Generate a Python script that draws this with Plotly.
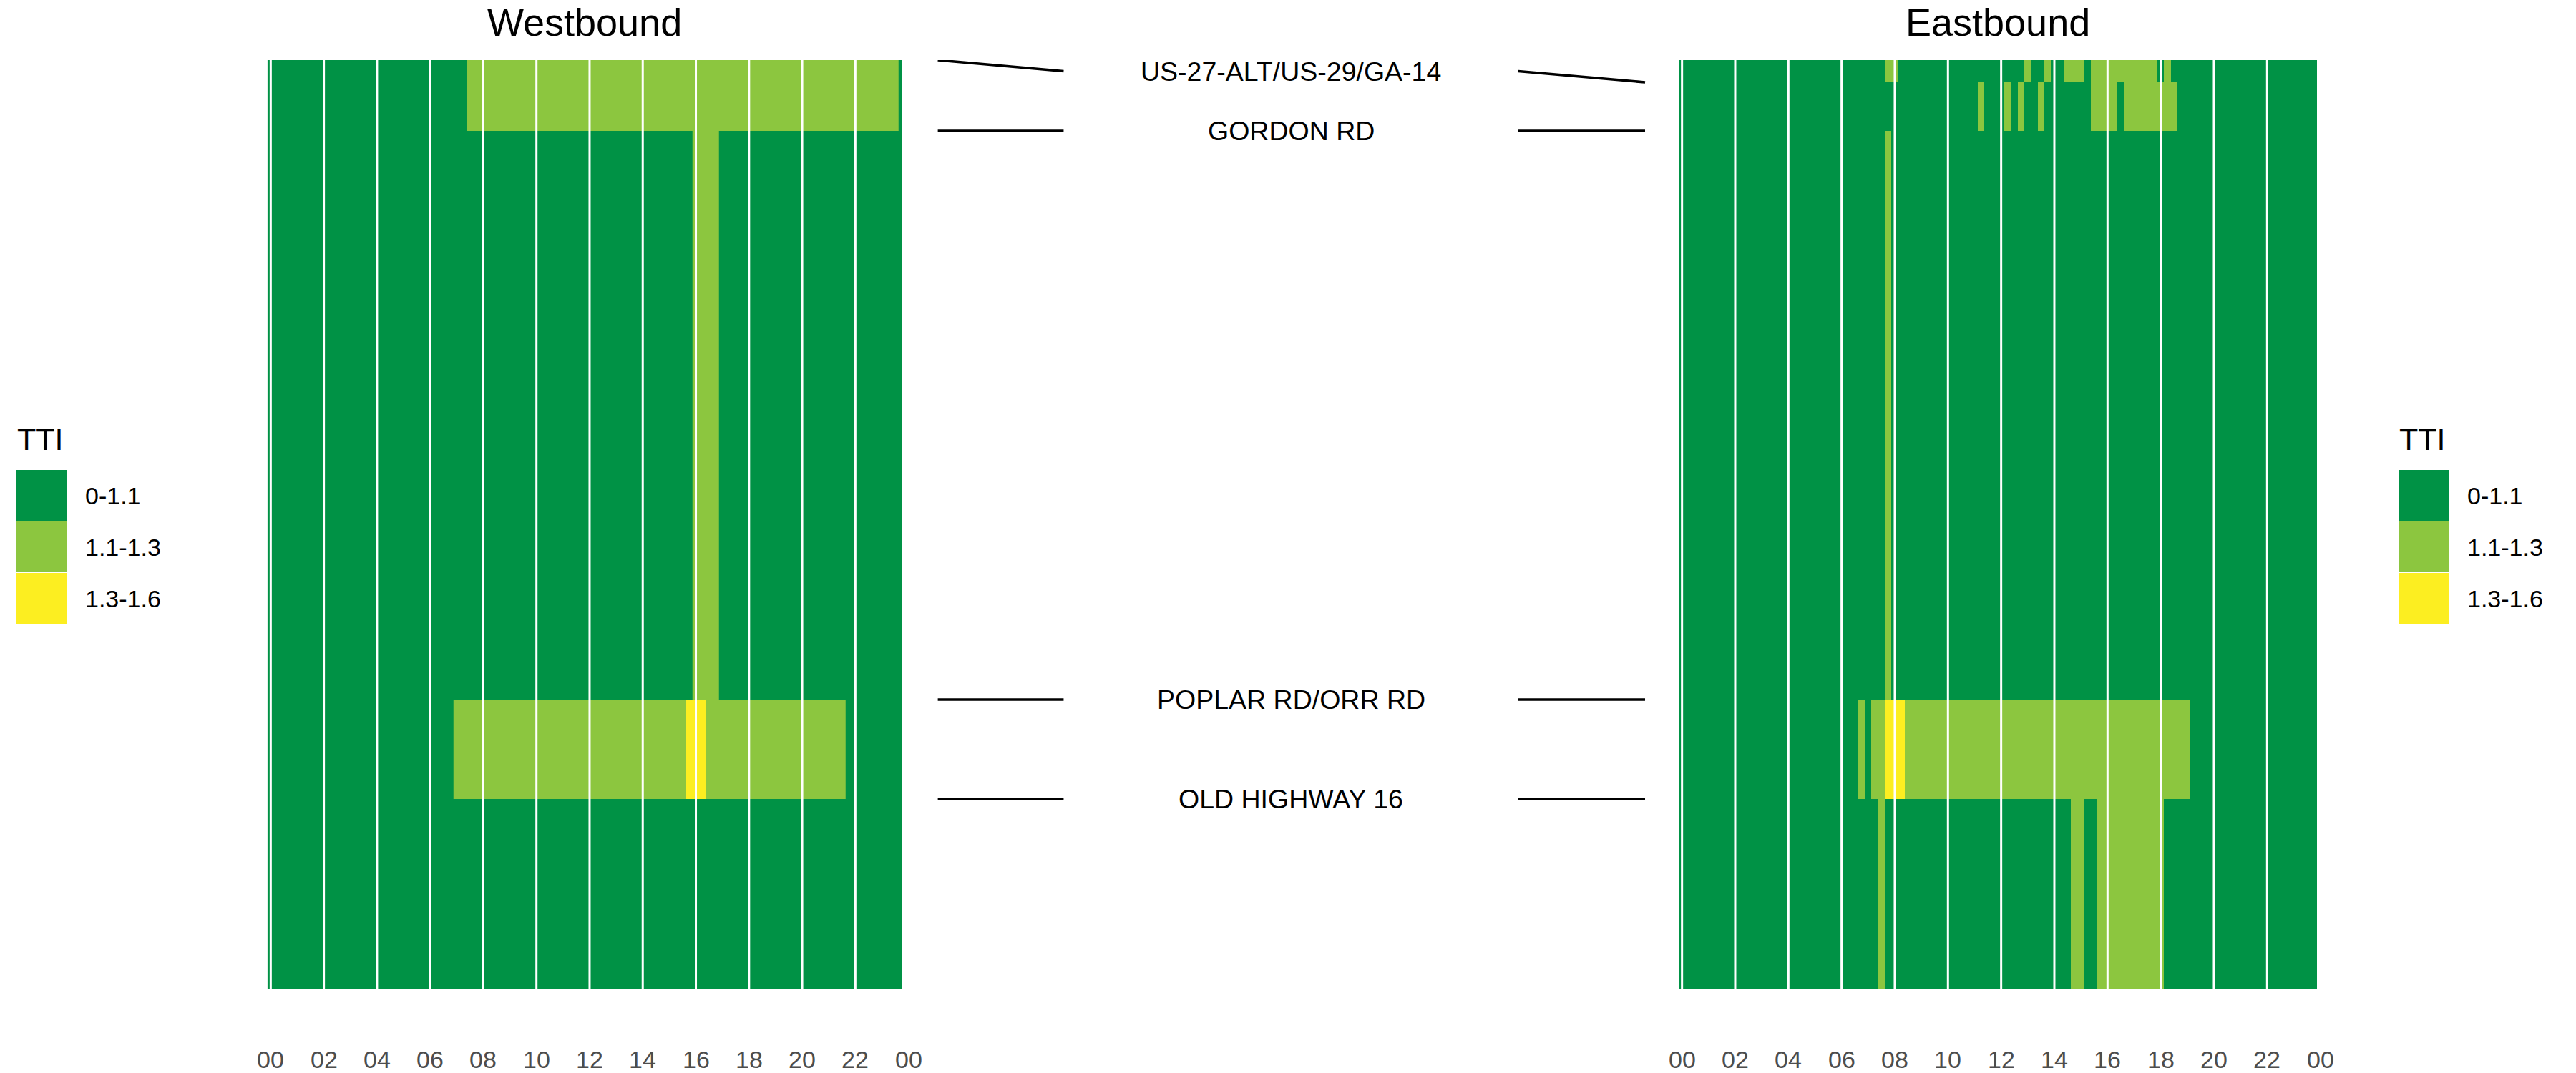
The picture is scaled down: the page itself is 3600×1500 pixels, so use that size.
import plotly.graph_objects as go

W, H = 3600, 1500
FONT = "Liberation Sans, Arial, sans-serif"

# ---------------- data ----------------
# 15-minute time bins (bin centres, hours after midnight)
time_bins = [i * 0.25 for i in range(96)]

tti_levels = ["0-1.1", "1.1-1.3", "1.3-1.6"]
tti_colors = ["#009245", "#8CC63F", "#FCEE21"]

intersections = ["US-27-ALT/US-29/GA-14", "GORDON RD", "POPLAR RD/ORR RD", "OLD HIGHWAY 16"]
wb_intersection_mile = [0.0, 0.495, 4.47, 5.165]
eb_intersection_mile = [0.155, 0.495, 4.47, 5.165]

corridor_length = 6.49
wb_segment_edges = [0.0, 0.495, 4.47, 5.165, 6.49]
eb_segment_edges = [0.0, 0.155, 0.495, 4.47, 5.165, 6.49]

# TTI class per 15-min bin (0 = 0-1.1, 1 = 1.1-1.3, 2 = 1.3-1.6), groups of 2 hours
wb_rows = [
    "00000000 00000000 00000000 00000011 11111111 11111111 11111111 11111111 11111111 11111111 11111111 11111110",
    "00000000 00000000 00000000 00000000 00000000 00000000 00000000 00000000 11110000 00000000 00000000 00000000",
    "00000000 00000000 00000000 00001111 11111111 11111111 11111111 11111112 22111111 11111111 11111110 00000000",
    "00000000 00000000 00000000 00000000 00000000 00000000 00000000 00000000 00000000 00000000 00000000 00000000",
]
eb_rows = [
    "00000000 00000000 00000000 00000001 10000000 00000000 00001001 00111011 11111111 01000000 00000000 00000000",
    "00000000 00000000 00000000 00000000 00000000 00000100 01010010 00000011 11011111 11100000 00000000 00000000",
    "00000000 00000000 00000000 00000001 00000000 00000000 00000000 00000000 00000000 00000000 00000000 00000000",
    "00000000 00000000 00000000 00010112 22111111 11111111 11111111 11111111 11111111 11111000 00000000 00000000",
    "00000000 00000000 00000000 00000010 00000000 00000000 00000000 00011001 11111111 10000000 00000000 00000000",
]

tick_hours = [0, 2, 4, 6, 8, 10, 12, 14, 16, 18, 20, 22, 24]
tick_labels = ["00", "02", "04", "06", "08", "10", "12", "14", "16", "18", "20", "22", "00"]
grid_hours = [0, 2, 4, 6, 8, 10, 12, 14, 16, 18, 20, 22]

# ---------------- layout constants (pixels) ----------------
def px_x(x):
    return x / W

def px_y(y):
    return 1 - y / H

PLOT_TOP, PLOT_BOT = 84, 1382
WB_L, WB_R = 373.7, 1260.7
EB_L, EB_R = 2346.0, 3238.0
WB_XRANGE = [-0.125, 23.76]
EB_XRANGE = [-0.125, 23.875]
YDOM = [px_y(PLOT_BOT), px_y(PLOT_TOP)]


def parse(rows):
    return [[int(c) for c in r.replace(" ", "")] for r in rows]


colorscale = [
    [0.0, tti_colors[0]], [1 / 3, tti_colors[0]],
    [1 / 3, tti_colors[1]], [2 / 3, tti_colors[1]],
    [2 / 3, tti_colors[2]], [1.0, tti_colors[2]],
]

fig = go.Figure()

for rows, edges, xa, ya in [(wb_rows, wb_segment_edges, "x", "y"),
                            (eb_rows, eb_segment_edges, "x2", "y2")]:
    fig.add_trace(go.Heatmap(
        x=time_bins, y=edges, z=parse(rows),
        zmin=-0.5, zmax=2.5, colorscale=colorscale, showscale=False,
        xaxis=xa, yaxis=ya, hoverinfo="skip",
    ))
    gx, gy = [], []
    for h in grid_hours:
        gx += [h, h, None]
        gy += [0, corridor_length, None]
    fig.add_trace(go.Scatter(
        x=gx, y=gy, mode="lines", line=dict(color="white", width=3),
        xaxis=xa, yaxis=ya, hoverinfo="skip", showlegend=False,
    ))

# connector lines in middle axis
LX = [0.046, 0.208, 0.7935, 0.9567]
for name, wbm, ebm in zip(intersections, wb_intersection_mile, eb_intersection_mile):
    mid = (wbm + ebm) / 2
    fig.add_trace(go.Scatter(
        x=[LX[0], LX[1], None, LX[2], LX[3]],
        y=[wbm, mid, None, mid, ebm],
        mode="lines", line=dict(color="black", width=3.6),
        xaxis="x3", yaxis="y3", hoverinfo="skip", showlegend=False,
    ))

annotations = []
for name, wbm, ebm in zip(intersections, wb_intersection_mile, eb_intersection_mile):
    annotations.append(dict(
        x=0.501, y=(wbm + ebm) / 2, xref="x3", yref="y3", text=name,
        showarrow=False, xanchor="center", yanchor="middle",
        font=dict(family=FONT, size=37.5, color="black"),
    ))

# titles
for title, l, r in [("Westbound", WB_L, WB_R), ("Eastbound", EB_L, EB_R)]:
    annotations.append(dict(
        x=px_x((l + r) / 2), y=1.0, xref="paper", yref="paper", text=title,
        showarrow=False, xanchor="center", yanchor="top", borderpad=0,
        font=dict(family=FONT, size=54, color="black"),
    ))

# x tick labels
for l, r, rng in [(WB_L, WB_R, WB_XRANGE), (EB_L, EB_R, EB_XRANGE)]:
    for t, lab in zip(tick_hours, tick_labels):
        frac = (t - rng[0]) / (rng[1] - rng[0])
        annotations.append(dict(
            x=px_x(l + frac * (r - l)), y=px_y(1481), xref="paper", yref="paper",
            text=lab, showarrow=False, xanchor="center", yanchor="middle",
            font=dict(family=FONT, size=34, color="#4D4D4D"),
        ))

# legends (left and right)
shapes = []
for off in [0, 3329]:
    annotations.append(dict(
        x=px_x(22 + off), y=px_y(614), xref="paper", yref="paper", text="TTI",
        showarrow=False, xanchor="left", yanchor="middle",
        font=dict(family=FONT, size=43, color="black"),
    ))
    for i, (lab, col) in enumerate(zip(tti_levels, tti_colors)):
        y0 = 657 + 72 * i
        shapes.append(dict(
            type="rect", xref="paper", yref="paper",
            x0=px_x(23 + off), x1=px_x(94 + off), y0=px_y(y0), y1=px_y(y0 + 71),
            fillcolor=col, line=dict(width=0),
        ))
        annotations.append(dict(
            x=px_x(117 + off), y=px_y(y0 + 36), xref="paper", yref="paper", text=lab,
            showarrow=False, xanchor="left", yanchor="middle",
            font=dict(family=FONT, size=34, color="black"),
        ))

ax_common = dict(showgrid=False, zeroline=False, showticklabels=False, ticks="",
                 showline=False, fixedrange=True)

fig.update_layout(
    width=W, height=H, margin=dict(l=0, r=0, t=0, b=0),
    paper_bgcolor="white", plot_bgcolor="white", showlegend=False,
    font=dict(family=FONT),
    xaxis=dict(domain=[px_x(WB_L), px_x(WB_R)], range=WB_XRANGE, anchor="y", **ax_common),
    yaxis=dict(domain=YDOM, range=[corridor_length, 0], anchor="x", **ax_common),
    xaxis2=dict(domain=[px_x(EB_L), px_x(EB_R)], range=EB_XRANGE, anchor="y2", **ax_common),
    yaxis2=dict(domain=YDOM, range=[corridor_length, 0], anchor="x2", **ax_common),
    xaxis3=dict(domain=[px_x(WB_R), px_x(EB_L)], range=[0, 1], anchor="y3", **ax_common),
    yaxis3=dict(domain=YDOM, range=[corridor_length, 0], anchor="x3", **ax_common),
    annotations=annotations,
    shapes=shapes,
)

fig.write_html("out.html")
